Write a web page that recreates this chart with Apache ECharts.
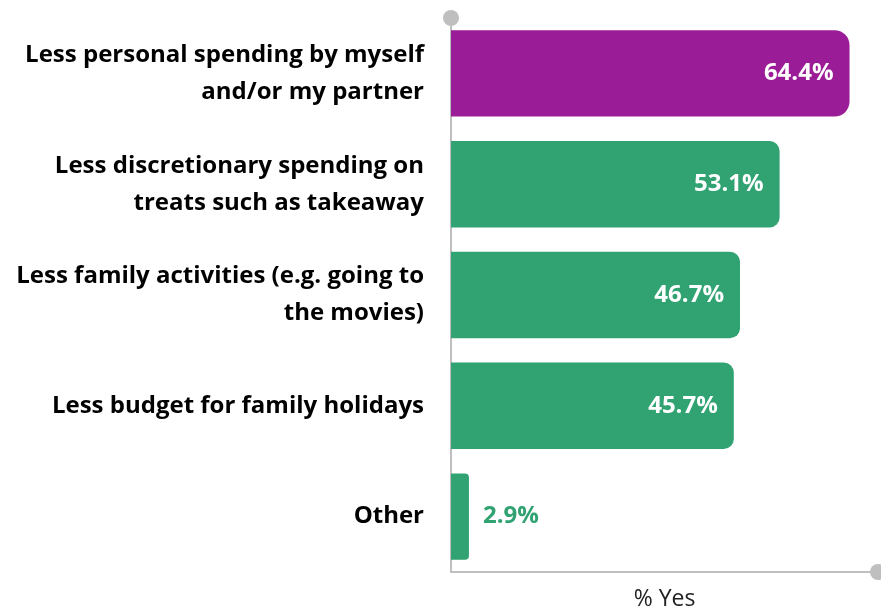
<!DOCTYPE html>
<html>
<head>
<meta charset="utf-8">
<script src="https://cdn.jsdelivr.net/npm/echarts@6/dist/echarts.min.js"></script>
<style>
  html, body { margin: 0; padding: 0; background: #fff; }
  #chart { width: 881px; height: 615px; }
</style>
</head>
<body>
<div id="chart"></div>
<script>
// Categories (top to bottom) and share answering "yes", in percent
const categories = [
  'Less personal spending by myself\nand/or my partner',
  'Less discretionary spending on\ntreats such as takeaway',
  'Less family activities (e.g. going to\nthe movies)',
  'Less budget for family holidays',
  'Other'
];
const values = [64.4, 53.1, 46.7, 45.7, 2.9];
const axisTitle = '% Yes';

const PURPLE = '#9B1C97';
const GREEN = '#31A373';
const FONT = '"Open Sans", Lato, sans-serif';

const seriesData = values.map((v, i) => {
  const highlight = i === 0;
  const small = v < 10;
  return {
    value: v,
    itemStyle: {
      color: highlight ? PURPLE : GREEN,
      borderRadius: highlight ? [0, 15, 15, 0] : (small ? [0, 4, 4, 0] : [0, 10, 10, 0])
    },
    label: small
      ? { position: 'right', distance: 14, color: GREEN }
      : { position: 'insideRight', distance: 16, color: '#fff' }
  };
});

const chart = echarts.init(document.getElementById('chart'));
chart.setOption({
  animation: false,
  grid: { left: 451, right: 3, top: 18, bottom: 43, containLabel: false, outerBoundsMode: 'none' },
  xAxis: {
    type: 'value',
    min: 0,
    max: 69,
    name: axisTitle,
    nameLocation: 'middle',
    nameGap: 16,
    nameTextStyle: { fontFamily: FONT, fontSize: 23, color: '#222' },
    axisLine: {
      show: true,
      lineStyle: { color: '#BFBFBF', width: 2 },
      symbol: ['none', 'circle'],
      symbolSize: [16, 16]
    },
    axisTick: { show: false },
    axisLabel: { show: false },
    splitLine: { show: false }
  },
  yAxis: {
    type: 'category',
    inverse: true,
    data: categories,
    axisLine: {
      show: true,
      onZero: false,
      lineStyle: { color: '#BFBFBF', width: 2 },
      symbol: ['none', 'circle'],
      symbolSize: [16, 16]
    },
    axisTick: { show: false },
    axisLabel: {
      margin: 27,
      fontFamily: FONT,
      fontWeight: 'bold',
      fontSize: 24,
      lineHeight: 37,
      padding: [6, 0, 0, 0],
      color: '#000',
      align: 'right'
    }
  },
  series: [{
    type: 'bar',
    data: seriesData,
    barCategoryGap: '22%',
    label: {
      show: true,
      fontFamily: FONT,
      fontWeight: 'bold',
      fontSize: 24,
      formatter: p => p.value.toFixed(1) + '%'
    }
  }]
});
</script>
</body>
</html>
